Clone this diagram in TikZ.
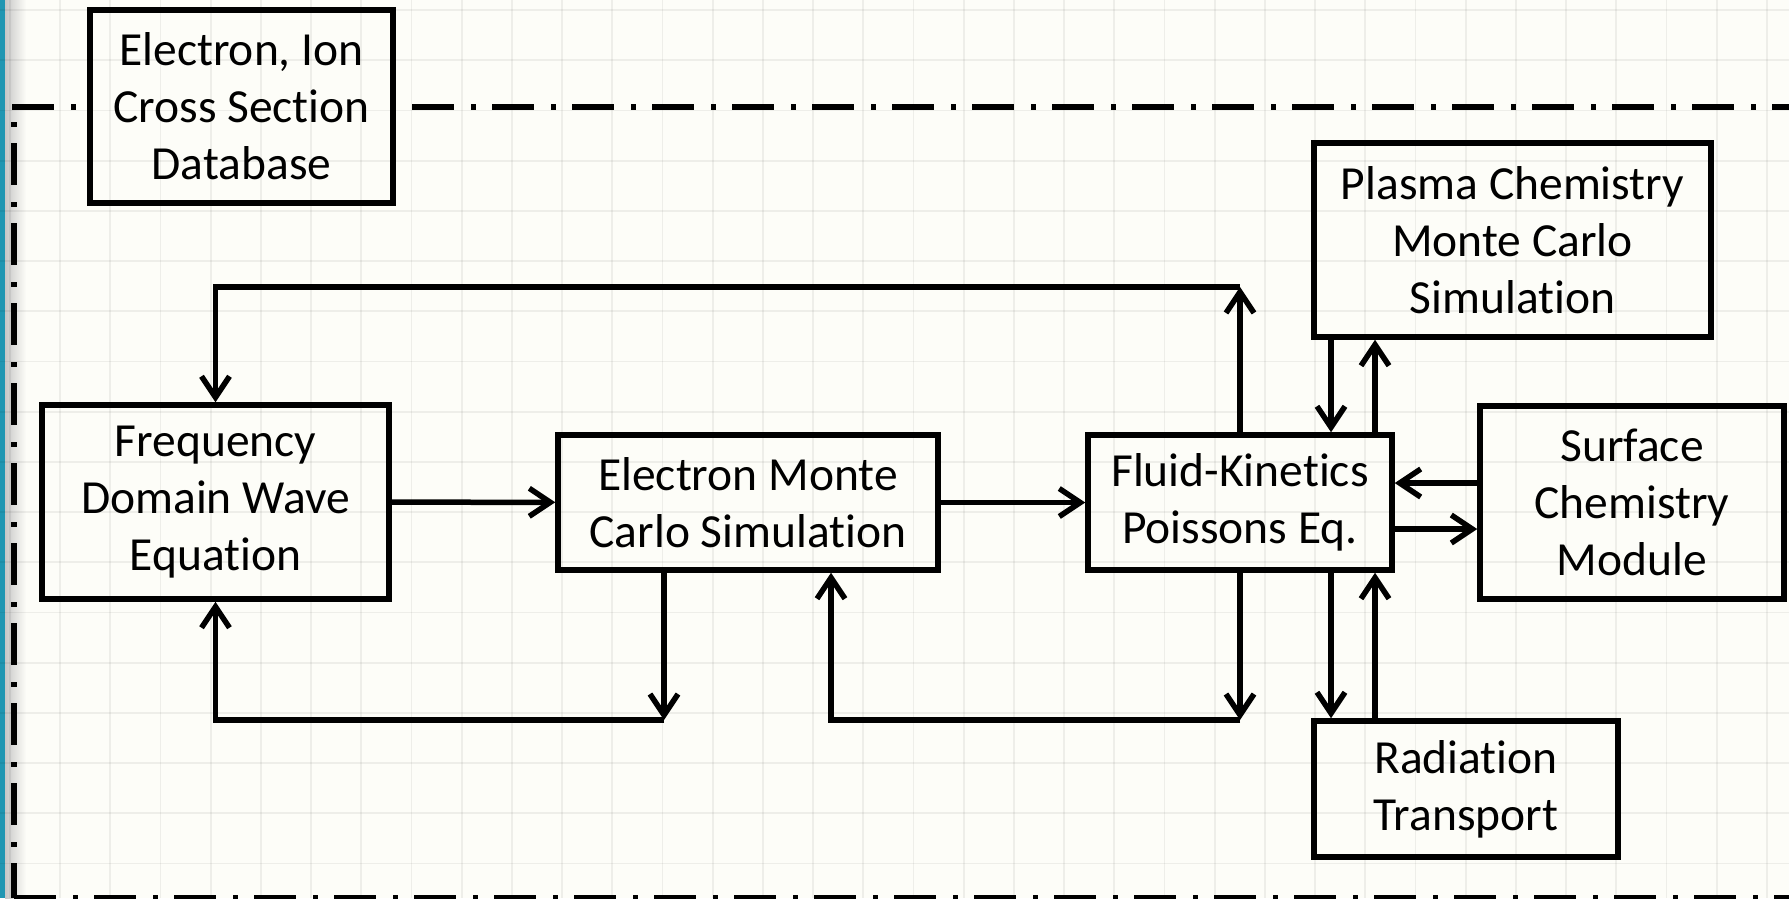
\documentclass[tikz,border=0pt]{standalone}
\usepackage{fontspec}
\setmainfont{Carlito}[Ligatures=NoCommon]
\usepackage{tikz}
\usetikzlibrary{arrows.meta}
\usepackage{xcolor}
\definecolor{slidebg}{RGB}{253,253,248}
\definecolor{slideedge}{RGB}{32,150,178}

\tikzset{
  block/.style={draw, line width=5.5pt, fill=slidebg, align=center, inner sep=0pt,
    font=\fontsize{47.5}{57}\selectfont},
  flow/.style={line width=5.5pt, -{Straight Barb[length=21pt,width=28pt]}},
  regionline/.style={line width=5.5pt, dash pattern=on 42pt off 17pt on 5pt off 16pt},
  gridline/.style={line width=1.8pt, black, opacity=0.06},
}

\begin{document}
\begin{tikzpicture}[x=1pt,y=-1pt]
\useasboundingbox (0,0) rectangle (1789,898);
\fill[slidebg] (0,0) rectangle (1789,898);
\shade[left color=black!22, right color=slidebg] (5,0) rectangle (26,898);
\fill[slideedge] (0,0) rectangle (5,898);

% simulation region
\draw[regionline] (12,107) -- (1789,107);
\draw[regionline, dash phase=44pt] (14,107) -- (14,898);
\draw[regionline] (14,898) -- (1789,898);

% modules
\node[block, minimum width=303, minimum height=193] (xsecdb) at (241.5,106.5) {Electron, Ion\\Cross Section\\Database};
\node[block, minimum width=347, minimum height=194] (fdwave) at (215.5,502) {Frequency\\Domain Wave\\Equation};
\node[block, minimum width=380, minimum height=135] (emc) at (748,502.5) {Electron Monte\\Carlo Simulation};
\node[block, minimum width=304, minimum height=135] (fluid) at (1240,502.5) {Fluid-Kinetics\\Poissons Eq.};
\node[block, minimum width=397, minimum height=194] (plasmamc) at (1512.5,240) {Plasma Chemistry\\Monte Carlo\\Simulation};
\node[block, minimum width=304, minimum height=193] (surface) at (1632,502.5) {Surface\\Chemistry\\Module};
\node[block, minimum width=304, minimum height=136] (radtrans) at (1466,789) {Radiation\\Transport};

% routing points
\coordinate (looptop) at (1240,287);
\coordinate (lowl) at (664,720);
\coordinate (lowr) at (1240,720);
\coordinate (emcin) at (831,720);
\coordinate (xdown) at (1331,0);
\coordinate (xup) at (1375,0);
\coordinate (yback) at (0,483);
\coordinate (yout) at (0,529);

% main chain
\draw[flow] (fdwave) -- (emc);
\draw[flow] (emc) -- (fluid);

% feedback loops
\draw[flow] (fluid.north) -- (looptop);
\draw[flow] (looptop) -| (fdwave.north);
\draw[flow] (emc.south -| lowl) -- (lowl);
\draw[flow] (lowl) -| (fdwave.south);
\draw[flow] (fluid.south) -- (lowr);
\draw[flow] (lowr) -- (emcin) -- (emcin |- emc.south);

% coupled modules
\draw[flow] (plasmamc.south -| xdown) -- (fluid.north -| xdown);
\draw[flow] (fluid.north -| xup) -- (plasmamc.south -| xup);
\draw[flow] (surface.west |- yback) -- (fluid.east |- yback);
\draw[flow] (fluid.east |- yout) -- (surface.west |- yout);
\draw[flow] (fluid.south -| xdown) -- (radtrans.north -| xdown);
\draw[flow] (radtrans.north -| xup) -- (fluid.south -| xup);

% slide grid
\foreach \gx in {-1,...,34}
  \draw[gridline] ({60+50.2*\gx},0) -- ++(0,898);
\foreach \gy in {0,...,17}
  \draw[gridline] (0,{10+50.2*\gy}) -- ++(1789,0);
\end{tikzpicture}
\end{document}
